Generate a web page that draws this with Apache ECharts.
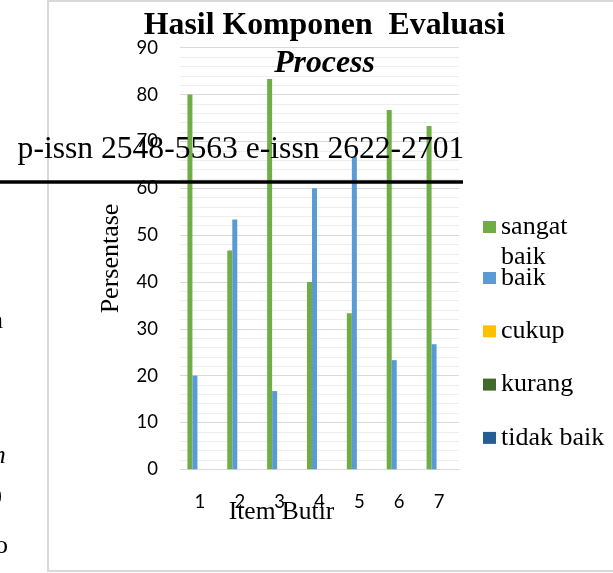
<!DOCTYPE html>
<html><head><meta charset="utf-8">
<script src="https://cdn.jsdelivr.net/npm/echarts@6/dist/echarts.min.js"></script>
<style>html,body{margin:0;padding:0;background:#fff}#c{width:613px;height:573px}</style>
</head><body><div id="c"></div>
<script>
const categories = ['1', '2', '3', '4', '5', '6', '7'];
const seriesNames = ['sangat baik', 'baik', 'cukup', 'kurang', 'tidak baik'];
const sangatBaik = [80, 46.7, 83.3, 40, 33.3, 76.7, 73.3];
const baik = [20, 53.3, 16.7, 60, 66.7, 23.3, 26.7];
const cukup = [0, 0, 0, 0, 0, 0, 0];
const kurang = [0, 0, 0, 0, 0, 0, 0];
const tidakBaik = [0, 0, 0, 0, 0, 0, 0];
const seriesColors = ['#70AD47', '#5B9BD5', '#FFC000', '#43682B', '#255E91'];
const titleLine1 = 'Hasil Komponen  Evaluasi';
const titleLine2 = 'Process';
const yName = 'Persentase';
const xName = 'Item Butir';
const issnText = 'p-issn 2548-5563 e-issn 2622-2701';

const serif = '"Liberation Serif", serif';
const sans = 'Lato';
const values = [sangatBaik, baik, cukup, kurang, tidakBaik];

const chart = echarts.init(document.getElementById('c'), null, {renderer: 'canvas'});
const t = {fontFamily: serif, fontSize: 26, lineHeight: 30, color: '#000'};
const legendText = {fontFamily: serif, fontSize: 26, lineHeight: 30, color: '#000', rich: {t: t}};
chart.setOption({
  animation: false,
  backgroundColor: '#fff',
  title: {
    text: '{a|' + titleLine1 + '}\n{b|' + titleLine2 + '}',
    left: 324.5, top: 6.5, padding: 0, textAlign: 'center',
    textStyle: {
      rich: {
        a: {fontFamily: serif, fontWeight: 'bold', fontSize: 31.8, lineHeight: 38, color: '#000'},
        b: {fontFamily: serif, fontWeight: 'bold', fontStyle: 'italic', fontSize: 31.8, lineHeight: 38, color: '#000'}
      }
    }
  },
  grid: {left: 180, right: 154, top: 47.7, bottom: 103.7},
  legend: [
    {
      data: [seriesNames[0]], orient: 'vertical', left: 483, top: 182, padding: 0,
      icon: 'rect', itemWidth: 13, itemHeight: 12, selectedMode: false,
      formatter: n => '{t| }\n' + n.split(' ').map(w => '{t|' + w + '}').join('\n'),
      textStyle: legendText
    },
    {
      data: seriesNames.slice(1), orient: 'vertical', left: 483, top: 263, padding: 0,
      itemGap: 23.3, icon: 'rect', itemWidth: 13, itemHeight: 12, selectedMode: false,
      formatter: n => '{t|' + n + '}',
      textStyle: legendText
    }
  ],
  xAxis: {
    type: 'category', data: categories,
    name: xName, nameLocation: 'middle', nameGap: 30, nameMoveOverlap: false,
    nameTextStyle: {fontFamily: serif, fontSize: 25.5, lineHeight: 26, color: '#000', padding: [0, 76, 0, 0]},
    axisLine: {lineStyle: {color: '#D9D9D9', width: 1}},
    axisTick: {show: false},
    axisLabel: {fontFamily: sans, fontSize: 18.5, color: '#000', margin: 23}
  },
  yAxis: {
    type: 'value', min: 0, max: 90, interval: 10,
    name: yName, nameLocation: 'middle', nameGap: 56, nameMoveOverlap: false,
    nameTextStyle: {fontFamily: serif, fontSize: 26, color: '#000'},
    axisLine: {show: false}, axisTick: {show: false},
    axisLabel: {fontFamily: sans, fontSize: 18.5, color: '#000', margin: 22},
    splitLine: {lineStyle: {color: '#D9D9D9', width: 1}},
    minorTick: {show: false, splitNumber: 5},
    minorSplitLine: {show: true, lineStyle: {color: '#EEEEEE', width: 1}}
  },
  series: seriesNames.map((n, i) => ({
    name: n, type: 'bar', data: values[i], barWidth: 5, barGap: '0%',
    itemStyle: {color: seriesColors[i]}
  })),
  graphic: [
    {type: 'rect', z: -10, shape: {x: 48, y: 1, width: 600, height: 570},
     style: {fill: 'none', stroke: '#D9D9D9', lineWidth: 2}},
    {type: 'text', z: 100, x: 17.6, y: 150,
     style: {text: issnText, font: '31.6px "Liberation Serif"', fill: '#000', verticalAlign: 'middle'}},
    {type: 'line', z: 100, shape: {x1: 0, y1: 182, x2: 463, y2: 182},
     style: {stroke: '#000', lineWidth: 3.5}},
    {type: 'text', z: 100, x: -5, y: 259, style: {text: '.', font: '26px "Liberation Serif"', fill: '#000', verticalAlign: 'bottom'}},
    {type: 'text', z: 100, x: -10, y: 334, style: {text: 'n', font: '26px "Liberation Serif"', fill: '#000', verticalAlign: 'bottom'}},
    {type: 'text', z: 100, x: -13, y: 469, style: {text: 'm', font: 'italic 26px "Liberation Serif"', fill: '#000', verticalAlign: 'bottom'}},
    {type: 'text', z: 100, x: -11, y: 511, style: {text: '0', font: '26px "Liberation Serif"', fill: '#000', verticalAlign: 'bottom'}},
    {type: 'text', z: 100, x: -5, y: 559, style: {text: 'o', font: '26px "Liberation Serif"', fill: '#000', verticalAlign: 'bottom'}}
  ]
});
</script></body></html>
